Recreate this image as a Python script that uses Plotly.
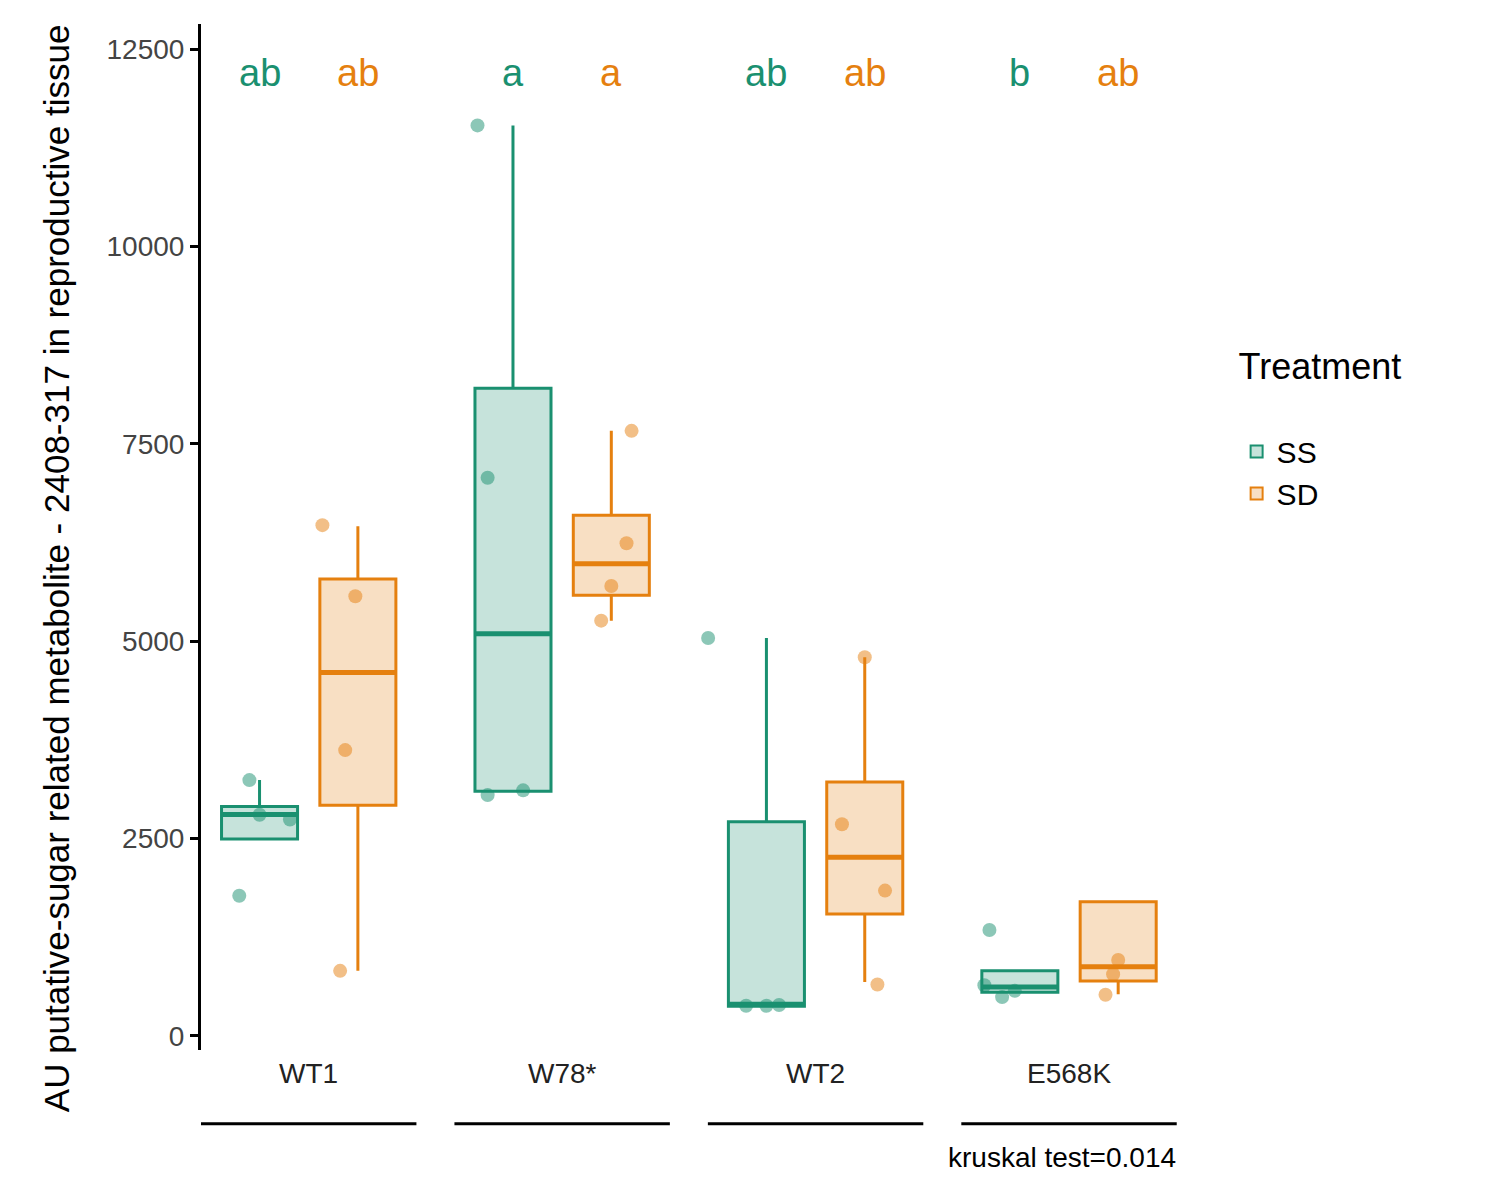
import plotly.graph_objects as go

groups = ["WT1", "W78*", "WT2", "E568K"]
treatments = ["SS", "SD"]
colors = {"SS": "#1A9070", "SD": "#E5800F"}
fills = {"SS": "rgba(26,144,112,0.25)", "SD": "rgba(229,128,15,0.25)"}

# box stats per group: [WT1, W78*, WT2, E568K]
stats = {
    "SS": dict(q1=[2495, 3100, 373, 553], med=[2803, 5093, 400, 617], q3=[2906, 8205, 2713, 823],
               lo=[2495, 3100, 373, 553], hi=[3240, 11535, 5041, 823]),
    "SD": dict(q1=[2920, 5581, 1543, 694], med=[4604, 5980, 2263, 874], q3=[5787, 6597, 3215, 1697],
               lo=[823, 5260, 682, 527], hi=[6456, 7665, 4797, 1697]),
}
points = {
    "SS": [[3240, 2800, 2740, 1775], [11535, 7070, 3050, 3110], [5041, 380, 380, 390], [1340, 640, 490, 570]],
    "SD": [[6470, 5570, 3620, 823], [7665, 6240, 5700, 5260], [4797, 2680, 1840, 650], [3890, 960, 780, 520]],
}
jitter = {
    "SS": [[-0.04, 0.0, 0.12, -0.08], [-0.14, -0.1, -0.1, 0.04], [-0.23, -0.08, 0.0, 0.05], [-0.12, -0.14, -0.07, -0.02]],
    "SD": [[-0.14, -0.01, -0.05, -0.07], [0.08, 0.06, -0.0, -0.04], [0.0, -0.09, 0.08, 0.05], [0.33, 0.0, -0.02, -0.05]],
}
letters = {"SS": ["ab", "a", "ab", "b"], "SD": ["ab", "a", "ab", "ab"]}
offset = {"SS": -0.194, "SD": 0.194}

fig = go.Figure()
for t in treatments:
    s = stats[t]
    xs = [i + 1 + offset[t] for i in range(len(groups))]
    fig.add_trace(go.Box(
        x=xs, q1=s["q1"], median=s["med"], q3=s["q3"], lowerfence=s["lo"], upperfence=s["hi"],
        width=0.3, name=t, line=dict(color=colors[t], width=3), fillcolor=fills[t],
        boxpoints=False, whiskerwidth=0, hoverinfo="skip"
    ))
    # thicker median line like ggplot
    for i, m in enumerate(s["med"]):
        fig.add_shape(type="line", x0=xs[i] - 0.15, x1=xs[i] + 0.15, y0=m, y1=m,
                      line=dict(color=colors[t], width=5))
    px, py = [], []
    for i, vals in enumerate(points[t]):
        for v, j in zip(vals, jitter[t][i]):
            px.append(i + 1 + offset[t] + j)
            py.append(v)
    fig.add_trace(go.Scatter(x=px, y=py, mode="markers", showlegend=False,
                             marker=dict(color=colors[t], size=14, opacity=0.5)))
    for i, lab in enumerate(letters[t]):
        fig.add_annotation(x=i + 1 + offset[t], y=12200, text=lab, showarrow=False,
                           font=dict(size=38, color=colors[t]))

for i, g in enumerate(groups):
    fig.add_shape(type="line", xref="x", yref="paper", x0=i + 0.575, x1=i + 1.425,
                  y0=-0.072, y1=-0.072, line=dict(color="black", width=3))
    fig.add_annotation(x=i + 1, y=-0.04, xref="x", yref="paper", text=g, showarrow=False,
                       font=dict(size=28, color="#222"))

fig.add_annotation(x=1, y=-0.122, xref="paper", yref="paper", xanchor="right", text="kruskal test=0.014",
                   showarrow=False, font=dict(size=28, color="black"))
fig.add_annotation(x=-0.17, y=0.47, xref="paper", yref="paper", textangle=-90,
                   text="AU putative-sugar related metabolite - 2408-317 in reproductive tissue",
                   showarrow=False, font=dict(size=35, color="black"))

fig.update_layout(
    width=1500, height=1200, plot_bgcolor="white", paper_bgcolor="white",
    font=dict(family="Liberation Sans, Arial", color="black"),
    margin=dict(l=193, r=330, t=16, b=158),
    boxmode="overlay",
    xaxis=dict(range=[0.575, 4.43], showticklabels=False, showgrid=False, zeroline=False, showline=False),
    yaxis=dict(range=[-180, 12820], tickvals=[0, 2500, 5000, 7500, 10000, 12500],
               ticktext=["0", "2500", "5000", "7500", "10000", "12500"],
               showgrid=False, zeroline=False, showline=True, linecolor="black", linewidth=3,
               ticks="outside", ticklen=8, tickwidth=3, tickcolor="black",
               tickfont=dict(size=28, color="#444")),
    legend=dict(title=dict(text="Treatment<br>", font=dict(size=36)), font=dict(size=30),
                x=1.06, y=0.7, yanchor="top", itemsizing="constant", tracegroupgap=30),
)

fig.write_html("out.html")
